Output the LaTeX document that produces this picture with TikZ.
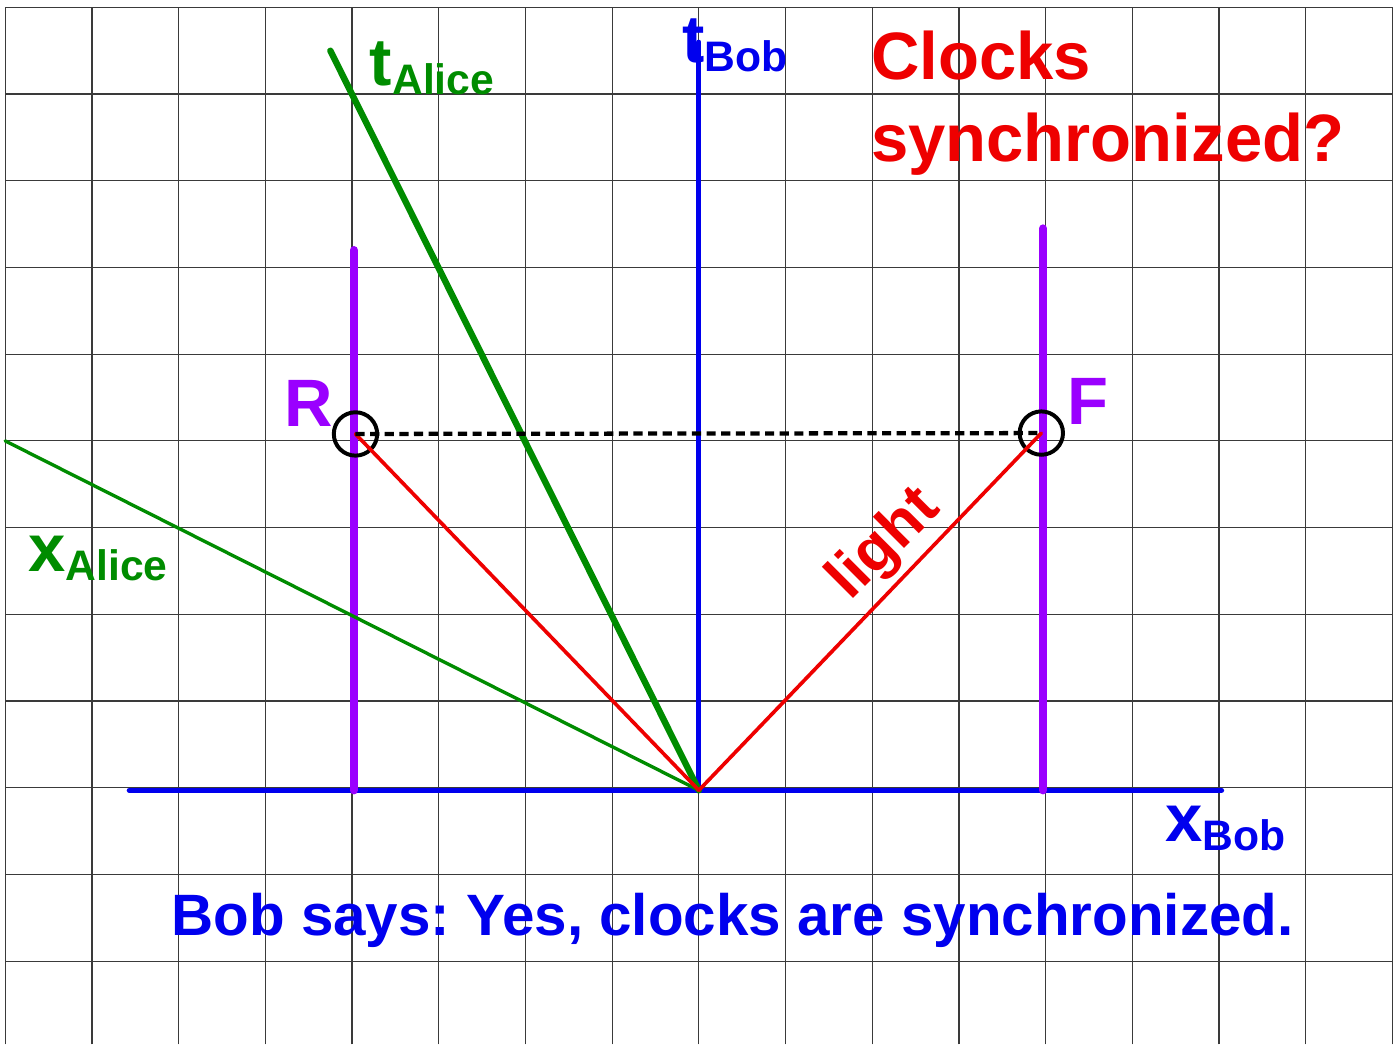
\documentclass[tikz,border=0pt]{standalone}
\usepackage{fontspec}
\setmainfont{Liberation Sans}
\usepackage{tikz}
\usepackage{xcolor}
\usetikzlibrary{arrows.meta,positioning,calc}
\definecolor{bobblue}{HTML}{0000EE}
\definecolor{alicegreen}{HTML}{008C00}
\definecolor{lightred}{HTML}{EE0000}
\definecolor{clockpurple}{HTML}{9A00FF}
\definecolor{gridink}{HTML}{3A3A3A}
\frenchspacing
\newcommand{\axlabel}[2]{{\fontsize{22}{26}\selectfont #1}{\fontsize{14}{16}\selectfont\raisebox{-3pt}{#2}}}
\tikzset{
  gridline/.style={draw=gridink,line width=0.4pt},
  bobaxis/.style={draw=bobblue,line width=1.6pt,line cap=round},
  aliceaxis/.style={draw=alicegreen,line cap=round},
  worldline/.style={draw=clockpurple,line width=2.7pt,line cap=round},
  lightray/.style={draw=lightred,line width=1.2pt,line cap=round},
  simline/.style={draw=black,line width=1.4pt,dash pattern=on 3pt off 1.8pt},
  eventmark/.style={draw=black,line width=1.3pt,circle,minimum size=0.5cm,inner sep=0pt},
  axtext/.style={anchor=base west,inner sep=0pt,font=\bfseries},
  bigtext/.style={anchor=base west,inner sep=0pt,font=\bfseries\fontsize{22}{26}\selectfont}
}
\begin{document}
\begin{tikzpicture}[x=1cm,y=1cm]
  \useasboundingbox (-8.06,-2.96) rectangle (8.075,9.085);
  \fill[white] (-8.06,-2.96) rectangle (8.075,9.085);
  \draw[gridline] (-8,-2.96) grid (8,9);

  \coordinate (O) at (0,-0.03);
  \coordinate (xBl) at (-6.57,-0.03);
  \coordinate (xBr) at (6.03,-0.03);
  \coordinate (tB) at (0,8.6);
  \coordinate (tA) at (-4.25,8.5);
  \coordinate (xA) at (-8,4);
  \coordinate (R0) at (-3.98,-0.03);
  \coordinate (R1) at (-3.98,6.2);
  \coordinate (F0) at (3.97,-0.03);
  \coordinate (F1) at (3.97,6.45);

  % Bob's axes
  \draw[bobaxis] (xBl) -- (xBr);
  \draw[bobaxis] (O) -- (tB);
  % clocks at rest for Bob
  \draw[worldline] (R0) -- (R1);
  \draw[worldline] (F0) -- (F1);
  % Alice's axes
  \draw[aliceaxis,line width=2.1pt] (O) -- (tA);
  \draw[aliceaxis,line width=1.1pt] (O) -- (xA);

  \node[eventmark] (R) at (-3.96,4.08) {};
  \node[eventmark] (F) at (3.95,4.09) {};
  \draw[lightray] (O) -- (R.center);
  \draw[lightray] (O) -- (F.center);
  \draw[simline] (R.center) -- (F.center);

  \node[axtext,text=bobblue] (tBob) at (-0.2,8.36) {\axlabel{t}{Bob}};
  \node[axtext,text=bobblue] (xBob) at (5.37,-0.62) {\axlabel{x}{Bob}};
  \node[axtext,text=alicegreen] (tAlice) at (-3.8,8.1) {\axlabel{t}{Alice}};
  \node[axtext,text=alicegreen] (xAlice) at (-7.74,2.49) {\axlabel{x}{Alice}};
  \node[bigtext,text=clockpurple] (Rlab) at (-4.79,4.17) {R};
  \node[bigtext,text=clockpurple] (Flab) at (4.25,4.19) {F};
  \node[inner sep=0pt,rotate=45,text=lightred,font=\bfseries\fontsize{20}{24}\selectfont] (light) at (2.15,2.8) {light};
  \node[bigtext,text=lightred] (ask1) at (1.98,8.17) {Clocks};
  \node[bigtext,text=lightred] (ask2) at (1.98,7.22) {synchronized?};
  \node[anchor=base west,inner sep=0pt,text=bobblue,font=\bfseries\fontsize{19.15}{23}\selectfont] (says) at (-6.09,-1.7) {Bob says: Yes, clocks are synchronized.};
\end{tikzpicture}
\end{document}
